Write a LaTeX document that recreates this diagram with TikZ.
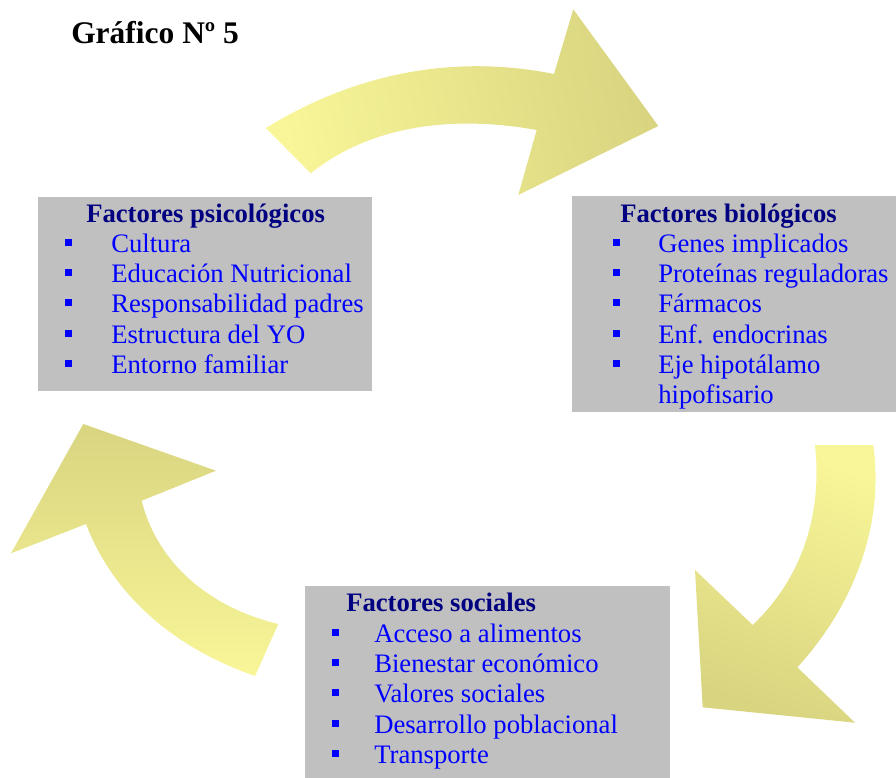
\documentclass[tikz,border=0pt]{standalone}
\usepackage{fontspec}
\setmainfont{Liberation Serif}
\definecolor{boxgray}{RGB}{192,192,192}
\definecolor{headnavy}{RGB}{0,0,128}
\definecolor{itemblue}{RGB}{0,0,255}
\definecolor{arrlight}{RGB}{248,246,152}
\definecolor{arrdark}{RGB}{216,212,128}
\begin{document}
\begin{tikzpicture}[x=0.75pt,y=-0.75pt,
  boxfill/.style={fill=boxgray, draw=none},
  headtxt/.style={anchor=base west, inner sep=0, font=\fontsize{20}{24}\selectfont\bfseries, text=headnavy},
  itemtxt/.style={anchor=base west, inner sep=0, font=\fontsize{20}{24}\selectfont, text=itemblue},
  bul/.style={fill=itemblue, inner sep=0, minimum size=5.25pt, draw=none},
  arrowshape/.style={draw=none}
]
\useasboundingbox (0,0) rectangle (896,778);

% title
\node[anchor=base west, inner sep=0, font=\fontsize{23.6}{28}\selectfont\bfseries] (title) at (71,43) {Gráfico Nº 5};

% arrows
\shade[arrowshape, left color=arrlight, right color=arrdark, shading angle=100]
  (266,128) .. controls (360,70) and (460,55) .. (554,74) -- (573.3,9.3) -- (658.3,126) -- (518.3,195) -- (536.7,130)
  .. controls (470,118) and (380,118) .. (310.7,173.3) -- cycle;
\shade[arrowshape, top color=arrlight, bottom color=arrdark, shading angle=-20]
  (815,445) -- (873.3,445) .. controls (885,530) and (850,610) .. (797.3,667.3) -- (855,722.7) -- (702.7,707.3) -- (695,570) -- (752.7,625)
  .. controls (805,575) and (822,510) .. (815,445) -- cycle;
\shade[arrowshape, top color=arrdark, bottom color=arrlight]
  (278.3,624) -- (255,676) .. controls (180,650) and (115,600) .. (86,524) -- (11,553.3) -- (83.3,424) -- (216,470.7) -- (141.7,500.7)
  .. controls (155,555) and (200,605) .. (278.3,624) -- cycle;

% boxes
\fill[boxfill] (38,197) rectangle (372,391);
\fill[boxfill] (572,196) rectangle (896,412);
\fill[boxfill] (305,586) rectangle (670,778);

% psicologicos
\node[headtxt] (psih) at (86,222) {Factores psicológicos};
\node[itemtxt] (psi1) at (111,252) {Cultura};
\node[itemtxt] (psi2) at (111,282) {Educación Nutricional};
\node[itemtxt] (psi3) at (111,312) {Responsabilidad padres};
\node[itemtxt] (psi4) at (111,343) {Estructura del YO};
\node[itemtxt] (psi5) at (111,373) {Entorno familiar};
\foreach \i/\y in {1/252,2/282,3/312,4/343,5/373}
  \node[bul] (psib\i) at (68.5,\y-10) {};

% biologicos
\node[headtxt] (bioh) at (620,222) {Factores biológicos};
\node[itemtxt] (bio1) at (658,252) {Genes implicados};
\node[itemtxt] (bio2) at (658,282) {Proteínas reguladoras};
\node[itemtxt] (bio3) at (658,312) {Fármacos};
\node[itemtxt] (bio4) at (658,343) {Enf. endocrinas};
\node[itemtxt] (bio5) at (658,373) {Eje hipotálamo};
\node[itemtxt] (bio6) at (658,403) {hipofisario};
\foreach \i/\y in {1/252,2/282,3/312,4/343,5/373}
  \node[bul] (biob\i) at (616.5,\y-10) {};

% sociales
\node[headtxt] (soch) at (346,611) {Factores sociales};
\node[itemtxt] (soc1) at (374,642) {Acceso a alimentos};
\node[itemtxt] (soc2) at (374,672) {Bienestar económico};
\node[itemtxt] (soc3) at (374,702) {Valores sociales};
\node[itemtxt] (soc4) at (374,733) {Desarrollo poblacional};
\node[itemtxt] (soc5) at (374,763) {Transporte};
\foreach \i/\y in {1/642,2/672,3/702,4/733,5/763}
  \node[bul] (socb\i) at (335.5,\y-10) {};
\end{tikzpicture}
\end{document}
